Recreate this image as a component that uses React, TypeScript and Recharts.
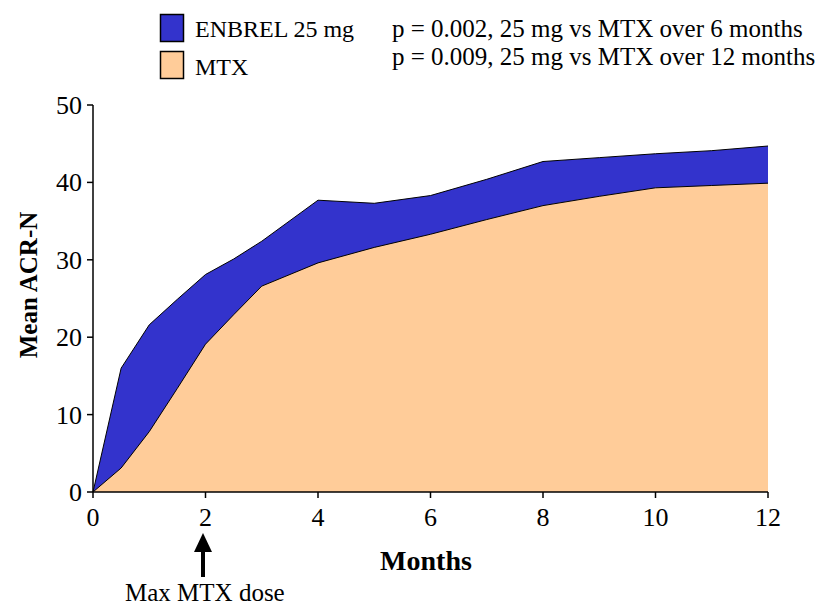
import React from 'react';
import { AreaChart, Area, XAxis, YAxis } from 'recharts';

// months on the x axis, mean ACR-N
const months = [0, 0.5, 1, 1.5, 2, 2.5, 3, 4, 5, 6, 7, 8, 9, 10, 11, 12];
const enbrel = [0, 16.0, 21.6, 24.9, 28.1, 30.1, 32.4, 37.7, 37.3, 38.3, 40.4, 42.7, 43.2, 43.7, 44.1, 44.7];
const mtx = [0, 3.1, 7.8, 13.4, 19.1, 22.9, 26.6, 29.6, 31.6, 33.3, 35.2, 37.0, 38.2, 39.3, 39.6, 39.9];

const xTicks = [0, 2, 4, 6, 8, 10, 12];
const yTicks = [0, 10, 20, 30, 40, 50];

const pNotes = [
  'p = 0.002, 25 mg vs MTX over 6 months',
  'p = 0.009, 25 mg vs MTX over 12 months',
];

const data = months.map((m, i) => ({ month: m, enbrel: enbrel[i], mtx: mtx[i] }));

const FONT = '"Liberation Serif", "Times New Roman", serif';
const BLUE = '#3333cc';
const PEACH = '#ffcc99';

const XTick = ({ x, y, payload }: any) => (
  <text x={x} y={y + 26} textAnchor="middle" fontFamily={FONT} fontSize={26} fill="#000">
    {payload.value}
  </text>
);

const YTick = ({ x, y, payload }: any) => (
  <text x={x} y={y + 9} textAnchor="end" fontFamily={FONT} fontSize={26} fill="#000">
    {payload.value}
  </text>
);

export default function App() {
  return (
    <div
      style={{
        position: 'absolute',
        left: 0,
        top: 0,
        width: 825,
        height: 605,
        background: '#fff',
        fontFamily: FONT,
      }}
    >
      <AreaChart
        width={825}
        height={605}
        data={data}
        margin={{ top: 105, right: 57, bottom: 73, left: 30 }}
      >
        <XAxis
          dataKey="month"
          type="number"
          domain={[0, 12]}
          ticks={xTicks}
          height={40}
          tickSize={6}
          tickMargin={2}
          axisLine={{ stroke: '#000', strokeWidth: 1.5 }}
          tickLine={{ stroke: '#000', strokeWidth: 1.5 }}
          tick={XTick}
          label={() => (
            <text x={426} y={570} textAnchor="middle" fontFamily={FONT} fontSize={28} fontWeight="bold" fill="#000">
              Months
            </text>
          )}
        />
        <YAxis
          type="number"
          domain={[0, 50]}
          ticks={yTicks}
          width={63}
          tickSize={6}
          tickMargin={5}
          axisLine={{ stroke: '#000', strokeWidth: 1.5 }}
          tickLine={{ stroke: '#000', strokeWidth: 1.5 }}
          tick={YTick}
          label={() => (
            <text
              x={28}
              y={285}
              textAnchor="middle"
              dominantBaseline="central"
              transform="rotate(-90, 28, 285)"
              fontFamily={FONT}
              fontSize={25}
              fontWeight="bold"
              fill="#000"
            >
              Mean ACR-N
            </text>
          )}
        />
        <Area
          type="linear"
          dataKey="enbrel"
          name="ENBREL 25 mg"
          stroke="#000"
          strokeWidth={1}
          fill={BLUE}
          fillOpacity={1}
          isAnimationActive={false}
        />
        <Area
          type="linear"
          dataKey="mtx"
          name="MTX"
          stroke="#000"
          strokeWidth={1}
          fill={PEACH}
          fillOpacity={1}
          isAnimationActive={false}
        />
      </AreaChart>
      <svg
        width={825}
        height={605}
        style={{ position: 'absolute', left: 0, top: 0, pointerEvents: 'none' }}
      >
        {/* legend */}
        <rect x={160.5} y={14.5} width={23} height={27} fill={BLUE} stroke="#000" strokeWidth={1.5} />
        <rect x={160.5} y={51.5} width={23} height={27} fill={PEACH} stroke="#000" strokeWidth={1.5} />
        <text x={195} y={37} fontFamily={FONT} fontSize={24} fill="#000">ENBREL 25 mg</text>
        <text x={195} y={75} fontFamily={FONT} fontSize={24} fill="#000">MTX</text>
        {pNotes.map((t, i) => (
          <text key={t} x={392} y={37 + i * 28} fontFamily={FONT} fontSize={25} fill="#000">{t}</text>
        ))}
        {/* max dose marker */}
        <polygon points="203,533 194,552 212,552" fill="#000" />
        <rect x={201} y={550} width={4} height={27} fill="#000" />
        <text x={125} y={601} fontFamily={FONT} fontSize={25} fill="#000">Max MTX dose</text>
      </svg>
    </div>
  );
}
